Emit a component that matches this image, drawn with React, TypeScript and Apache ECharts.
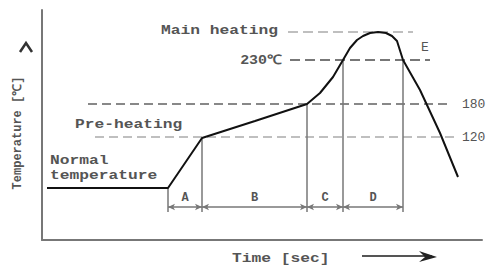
import React, { useEffect, useRef } from "react";
import * as echarts from "echarts";

// Schematic reflow profile (abstract units: x = time, y = temperature level)
const profileTime = [5, 126, 160, 213, 265, 278, 291, 301, 308, 315, 321, 328, 336, 344, 350, 355, 361, 378, 398, 416];
const profileTemp = [52, 52, 102, 119, 136, 147, 163, 180, 192, 200, 204, 207, 208, 207, 204, 199, 180, 150, 107, 63];

// Dashed guide lines: main heating, 230℃, 180, 120
const guideLevels = [208, 180, 136, 103];
const guideStart = [246, 248, 46, 53];
const guideEnd = [371, 388, 406, 413];

// Phase boundaries (A, B, C, D)
const phaseBounds = [126, 160, 265, 301, 361];
const phaseTops = [52, 102, 136, 180, 180];
const phaseNames = ["A", "B", "C", "D"];
const phaseFloor = 28;
const dimLevel = 33;

const FONT = "Liberation Mono";
const TXT = "#555";

export default function App() {
  const ref = useRef<HTMLDivElement>(null);
  useEffect(() => {
    if (!ref.current) return;
    const chart = echarts.init(ref.current, null, { renderer: "svg" });

    const guideStyles = [
      { color: "#aaa", width: 1.5, type: [10, 5] },
      { color: "#777", width: 2, type: [10, 5] },
      { color: "#888", width: 2, type: [9, 5] },
      { color: "#aaa", width: 1.5, type: [9, 5] },
    ];

    const guideData = guideLevels.map((lv, i) => [
      { coord: [guideStart[i], lv], lineStyle: guideStyles[i] },
      { coord: [guideEnd[i], lv] },
    ]);
    const verticalData = phaseBounds.map((b, i) => [
      { coord: [b, phaseTops[i]] },
      { coord: [b, phaseFloor] },
    ]);
    const dimData = phaseNames.map((n, i) => [
      { coord: [phaseBounds[i], dimLevel] },
      { coord: [phaseBounds[i + 1], dimLevel] },
    ]);

    const txt = (text: string, x: number, y: number, opts: any = {}) => ({
      type: "text",
      x,
      y,
      scaleX: opts.scaleX ?? 1.25,
      rotation: opts.rotation ?? 0,
      style: {
        text,
        fill: opts.color ?? TXT,
        font: `${opts.weight ?? "bold"} ${opts.size ?? 13}px "${FONT}"`,
        textAlign: opts.align ?? "left",
        textVerticalAlign: "middle",
      },
      silent: true,
    });

    chart.setOption({
      animation: false,
      grid: { left: 42, right: 6, top: 10, bottom: 29 },
      xAxis: {
        type: "value",
        min: 0,
        max: 440,
        axisLine: { show: true, lineStyle: { color: "#777", width: 2 } },
        axisTick: { show: false },
        axisLabel: { show: false },
        splitLine: { show: false },
      },
      yAxis: {
        type: "value",
        min: 0,
        max: 230,
        axisLine: { show: true, lineStyle: { color: "#777", width: 2 } },
        axisTick: { show: false },
        axisLabel: { show: false },
        splitLine: { show: false },
      },
      series: [
        {
          type: "line",
          data: profileTime.map((t, i) => [t, profileTemp[i]]),
          showSymbol: false,
          symbol: "none",
          lineStyle: { color: "#111", width: 2 },
          z: 5,
          markLine: {
            silent: true,
            symbol: "none",
            label: { show: false },
            lineStyle: { color: "#777", width: 1.5, type: "solid" },
            data: [...guideData, ...verticalData],
          },
        },
        {
          type: "line",
          data: [],
          markLine: {
            silent: true,
            symbol: ["arrow", "arrow"],
            symbolSize: [5, 7],
            label: {
              show: true,
              position: "middle",
              distance: 3,
              color: TXT,
              fontFamily: FONT,
              fontSize: 12,
              fontWeight: "bold",
              formatter: (p: any) => phaseNames[p.dataIndex],
            },
            lineStyle: { color: "#777", width: 1.5, type: "solid" },
            data: dimData,
          },
        },
      ],
      graphic: [
        txt("Main heating", 278, 30, { align: "right" }),
        txt("230℃", 282, 60, { align: "right", scaleX: 1.15 }),
        txt("180", 462, 104, { scaleX: 1.0, weight: "normal" }),
        txt("120", 462, 137, { scaleX: 1.0, weight: "normal" }),
        txt("Pre-heating", 75, 124),
        txt("Normal", 50, 160),
        txt("temperature", 50, 175),
        txt("E", 425, 47, { align: "center", scaleX: 1.0, weight: "normal" }),
        txt("Time [sec]", 232, 258),
        txt("Temperature [℃]", 18, 133, { align: "center", scaleX: 1.0, rotation: Math.PI / 2, size: 12 }),
        {
          type: "polyline",
          shape: { points: [[20, 52], [26, 43], [32, 52]] },
          style: { stroke: "#333", lineWidth: 2.5, fill: "none" },
        },
        {
          type: "line",
          shape: { x1: 362, y1: 256, x2: 432, y2: 256 },
          style: { stroke: "#555", lineWidth: 2 },
        },
        {
          type: "polygon",
          shape: { points: [[419, 251], [437, 257], [419, 262], [425, 257]] },
          style: { fill: "#222" },
        },
      ],
    });
    return () => chart.dispose();
  }, []);
  return (
    <div
      ref={ref}
      style={{ position: "absolute", left: 0, top: 0, width: 488, height: 269, background: "#fff" }}
    />
  );
}
